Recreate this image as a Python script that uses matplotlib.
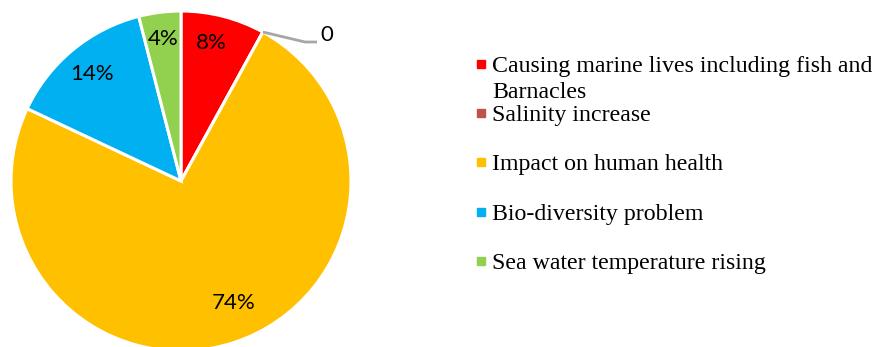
import matplotlib.pyplot as plt
import numpy as np

categories = ['Causing marine lives including fish and\nBarnacles',
              'Salinity increase',
              'Impact on human health',
              'Bio-diversity problem',
              'Sea water temperature rising']
values = [8, 0, 74, 14, 4]
pct_labels = ['8%', '0', '74%', '14%', '4%']
colors = ['#FF0000', '#C0504D', '#FFC000', '#00B0F0', '#92D050']

W, H = 875, 347
fig = plt.figure(figsize=(W / 100, H / 100), dpi=100)

# pie axes: centre (181,181) px, radius 170 px
cx, cy, r = 181, 181, 170
ax = fig.add_axes([(cx - r) / W, (H - cy - r) / H, 2 * r / W, 2 * r / H])
wedges, _ = ax.pie(values, colors=colors, startangle=90, counterclock=False,
                   radius=1, wedgeprops=dict(edgecolor='white', linewidth=2.2))
ax.set_xlim(-1, 1)
ax.set_ylim(-1, 1)
ax.set_axis_off()

label_font = dict(family=['Lato', 'DejaVu Sans'], fontsize=16, color='black')
label_dist = [0.83, None, 0.78, 0.82, 0.84]
label_shift = [2.0, 0, 5.6, 0, 0]  # degrees, Excel best-fit nudges
for w, txt, d, sh in zip(wedges, pct_labels, label_dist, label_shift):
    if d is None:
        continue
    ang = np.deg2rad((w.theta1 + w.theta2) / 2 + sh)
    ax.text(d * np.cos(ang), d * np.sin(ang), txt, ha='center', va='center', **label_font)

# zero slice label with leader line
w0 = wedges[1]
a0 = np.deg2rad(w0.theta1)
p0 = (np.cos(a0), np.sin(a0))
ax.plot([p0[0], 124 / r, 136 / r], [p0[1], 139 / r, 139 / r], color='#A6A6A6',
        lw=2, clip_on=False, solid_capstyle='butt')
ax.text(139 / r, 146 / r, pct_labels[1], ha='left', va='center', **label_font)

# legend
lax = fig.add_axes([0, 0, 1, 1])
lax.set_xlim(0, W)
lax.set_ylim(H, 0)
lax.set_axis_off()
baselines = [72, 121, 170, 220, 269]
for cat, col, yb in zip(categories, colors, baselines):
    lax.plot(481, yb - 8.5, marker='s', markersize=5.8, color=col, mec=col, ls='none')
    for i, line in enumerate(cat.split('\n')):
        lax.text(492, yb + 25.5 * i, line, ha='left', va='baseline', fontsize=17.2,
                 family='Liberation Serif')

fig.savefig('out.png', dpi=100)
